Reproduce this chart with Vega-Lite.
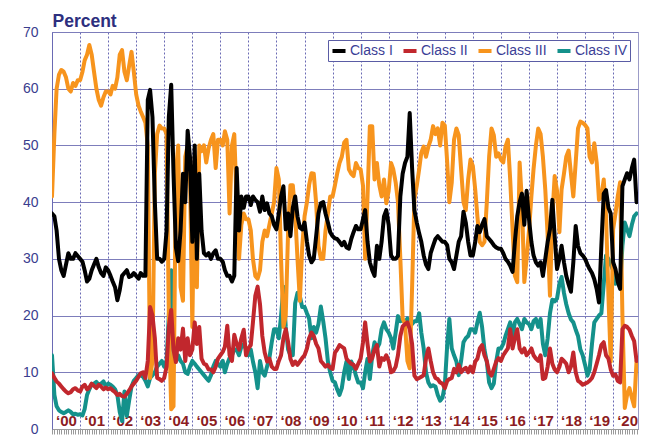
{
"$schema":"https://vega.github.io/schema/vega-lite/v6.json",
"width":586,"height":397,
"autosize":{"type":"none"},
"padding":{"left":52,"top":32,"right":13,"bottom":6},
"background":"white",
"config":{"view":{"stroke":"#9c9cc8","strokeWidth":1},"font":"Liberation Sans"},
"data":{"values":[
{"d":"2000-01","I":38,"II":9.8,"III":41,"IV":13},
{"d":"2000-02","I":37.5,"II":9,"III":52,"IV":6},
{"d":"2000-03","I":35,"II":8.4,"III":60,"IV":4},
{"d":"2000-04","I":30,"II":8,"III":62.5,"IV":3.3},
{"d":"2000-05","I":28,"II":7.5,"III":63.3,"IV":3},
{"d":"2000-06","I":27,"II":7,"III":63,"IV":2.8},
{"d":"2000-07","I":29,"II":6.6,"III":62,"IV":3},
{"d":"2000-08","I":31,"II":6.3,"III":60,"IV":3.3},
{"d":"2000-09","I":30,"II":6.5,"III":59.5,"IV":3},
{"d":"2000-10","I":30,"II":7,"III":61,"IV":2.6},
{"d":"2000-11","I":31,"II":7.2,"III":60.5,"IV":2.7},
{"d":"2000-12","I":30.5,"II":6.8,"III":61.5,"IV":2.5},
{"d":"2001-01","I":30,"II":6.6,"III":61.5,"IV":2.6},
{"d":"2001-02","I":29.5,"II":7.5,"III":63,"IV":2.4},
{"d":"2001-03","I":28,"II":7.8,"III":65,"IV":3.5},
{"d":"2001-04","I":26,"II":7,"III":66,"IV":6},
{"d":"2001-05","I":26.5,"II":7.3,"III":67.7,"IV":7},
{"d":"2001-06","I":28,"II":8,"III":66,"IV":7.9},
{"d":"2001-07","I":29,"II":7.6,"III":63,"IV":8},
{"d":"2001-08","I":30,"II":7.2,"III":60,"IV":8.3},
{"d":"2001-09","I":28.5,"II":7.8,"III":58,"IV":7.8},
{"d":"2001-10","I":27.5,"II":7.5,"III":57,"IV":8},
{"d":"2001-11","I":27,"II":7,"III":58.5,"IV":8.4},
{"d":"2001-12","I":28.5,"II":7.3,"III":59.5,"IV":7.5},
{"d":"2002-01","I":28,"II":7,"III":59.5,"IV":8},
{"d":"2002-02","I":27,"II":7.2,"III":59,"IV":7.8},
{"d":"2002-03","I":26,"II":6.8,"III":60.5,"IV":7.5},
{"d":"2002-04","I":25,"II":6.5,"III":60,"IV":7},
{"d":"2002-05","I":22.7,"II":6,"III":62,"IV":6},
{"d":"2002-06","I":24.5,"II":6.2,"III":66,"IV":3},
{"d":"2002-07","I":27,"II":5.8,"III":66.8,"IV":1.4},
{"d":"2002-08","I":27.5,"II":5.7,"III":63,"IV":6.6},
{"d":"2002-09","I":28,"II":6.2,"III":61.5,"IV":2.3},
{"d":"2002-10","I":26.8,"II":6.8,"III":64,"IV":5},
{"d":"2002-11","I":27,"II":7.5,"III":66.5,"IV":7.5},
{"d":"2002-12","I":27.5,"II":8,"III":63,"IV":8.5},
{"d":"2003-01","I":27,"II":8.5,"III":59,"IV":9},
{"d":"2003-02","I":26.5,"II":9.2,"III":57,"IV":9.5},
{"d":"2003-03","I":27.5,"II":9.8,"III":56,"IV":9.5},
{"d":"2003-04","I":27,"II":10,"III":55,"IV":9.2},
{"d":"2003-05","I":27,"II":9,"III":54,"IV":8.5},
{"d":"2003-06","I":58,"II":12,"III":50,"IV":7.5},
{"d":"2003-07","I":59.8,"II":21.5,"III":9,"IV":9},
{"d":"2003-08","I":55,"II":20,"III":12,"IV":9.5},
{"d":"2003-09","I":40,"II":16,"III":45,"IV":10},
{"d":"2003-10","I":30,"II":9,"III":52,"IV":11},
{"d":"2003-11","I":30,"II":8.8,"III":53.5,"IV":11.5},
{"d":"2003-12","I":29.5,"II":8.5,"III":53,"IV":12},
{"d":"2004-01","I":30,"II":9,"III":53,"IV":11},
{"d":"2004-02","I":35,"II":11,"III":52,"IV":12},
{"d":"2004-03","I":55,"II":18,"III":20,"IV":20},
{"d":"2004-04","I":60.7,"II":21,"III":3.5,"IV":28},
{"d":"2004-05","I":45,"II":14,"III":4,"IV":12.4},
{"d":"2004-06","I":32,"II":11.8,"III":45,"IV":12},
{"d":"2004-07","I":29.6,"II":16,"III":50,"IV":13},
{"d":"2004-08","I":35,"II":14,"III":25,"IV":12},
{"d":"2004-09","I":45,"II":17.7,"III":22.6,"IV":11.5},
{"d":"2004-10","I":40,"II":12,"III":48,"IV":10},
{"d":"2004-11","I":52.6,"II":16,"III":50,"IV":9.7},
{"d":"2004-12","I":48,"II":13,"III":45,"IV":11},
{"d":"2005-01","I":33,"II":14,"III":18,"IV":12},
{"d":"2005-02","I":50,"II":18.8,"III":48,"IV":11.5},
{"d":"2005-03","I":30,"II":15,"III":25,"IV":11},
{"d":"2005-04","I":45,"II":18,"III":50,"IV":10.5},
{"d":"2005-05","I":35,"II":12.4,"III":49,"IV":10},
{"d":"2005-06","I":31,"II":11.5,"III":50,"IV":9.5},
{"d":"2005-07","I":30.6,"II":11.3,"III":47,"IV":9},
{"d":"2005-08","I":31,"II":10.5,"III":49.5,"IV":8.5},
{"d":"2005-09","I":30,"II":10.5,"III":51,"IV":9.5},
{"d":"2005-10","I":31,"II":10,"III":52,"IV":11},
{"d":"2005-11","I":31.5,"II":11,"III":46,"IV":12},
{"d":"2005-12","I":30,"II":12.4,"III":51,"IV":11.5},
{"d":"2006-01","I":30,"II":13,"III":51,"IV":11},
{"d":"2006-02","I":29.5,"II":13.6,"III":50,"IV":12},
{"d":"2006-03","I":28,"II":14.5,"III":52.5,"IV":10},
{"d":"2006-04","I":27,"II":18.2,"III":51,"IV":11.5},
{"d":"2006-05","I":27,"II":13,"III":38,"IV":12.5},
{"d":"2006-06","I":26,"II":12,"III":50,"IV":13},
{"d":"2006-07","I":27,"II":16.6,"III":52,"IV":14},
{"d":"2006-08","I":46,"II":15,"III":40,"IV":14},
{"d":"2006-09","I":35,"II":14,"III":30,"IV":13},
{"d":"2006-10","I":41,"II":16,"III":36,"IV":14.5},
{"d":"2006-11","I":39,"II":17.5,"III":38,"IV":15},
{"d":"2006-12","I":41,"II":13,"III":37,"IV":14},
{"d":"2007-01","I":41,"II":14.2,"III":37,"IV":13},
{"d":"2007-02","I":39.5,"II":14.8,"III":35,"IV":14},
{"d":"2007-03","I":41,"II":18.8,"III":30,"IV":11.9},
{"d":"2007-04","I":40.4,"II":23.5,"III":27,"IV":10},
{"d":"2007-05","I":40,"II":25.1,"III":26.5,"IV":7.2},
{"d":"2007-06","I":38.3,"II":22,"III":28,"IV":12},
{"d":"2007-07","I":41,"II":16.4,"III":33,"IV":10},
{"d":"2007-08","I":38.6,"II":13.5,"III":35,"IV":9.4},
{"d":"2007-09","I":39.8,"II":11.9,"III":34,"IV":11},
{"d":"2007-10","I":38,"II":12.4,"III":36,"IV":12.5},
{"d":"2007-11","I":37.5,"II":11,"III":38,"IV":15.3},
{"d":"2007-12","I":36,"II":10.6,"III":40,"IV":17.6},
{"d":"2008-01","I":35.2,"II":10.6,"III":46,"IV":17.6},
{"d":"2008-02","I":38,"II":12,"III":44,"IV":16},
{"d":"2008-03","I":41,"II":13,"III":30,"IV":19.9},
{"d":"2008-04","I":42.8,"II":16,"III":18,"IV":25.1},
{"d":"2008-05","I":35.2,"II":17.6,"III":20,"IV":18},
{"d":"2008-06","I":38,"II":15.3,"III":35,"IV":14},
{"d":"2008-07","I":34,"II":12.4,"III":43,"IV":13},
{"d":"2008-08","I":39,"II":11.3,"III":43,"IV":13},
{"d":"2008-09","I":41,"II":11.9,"III":38,"IV":22.2},
{"d":"2008-10","I":37.5,"II":11.3,"III":30,"IV":24},
{"d":"2008-11","I":35.5,"II":11.9,"III":22.6,"IV":23.4},
{"d":"2008-12","I":35.2,"II":12.5,"III":32,"IV":21.5},
{"d":"2009-01","I":36.4,"II":13,"III":37.5,"IV":21.5},
{"d":"2009-02","I":33,"II":14.2,"III":40,"IV":20.4},
{"d":"2009-03","I":30.6,"II":16,"III":43,"IV":19.5},
{"d":"2009-04","I":29.4,"II":17,"III":45.1,"IV":16},
{"d":"2009-05","I":30,"II":16.4,"III":45,"IV":18},
{"d":"2009-06","I":34,"II":15,"III":39.8,"IV":17},
{"d":"2009-07","I":38,"II":14.2,"III":32.3,"IV":18.5},
{"d":"2009-08","I":39.8,"II":12,"III":30,"IV":21.6},
{"d":"2009-09","I":40,"II":11.5,"III":30,"IV":19},
{"d":"2009-10","I":38,"II":11,"III":35,"IV":16},
{"d":"2009-11","I":36.4,"II":11.3,"III":38,"IV":11.9},
{"d":"2009-12","I":34.7,"II":10.8,"III":41,"IV":10},
{"d":"2010-01","I":34,"II":10.6,"III":41,"IV":8.5},
{"d":"2010-02","I":33.6,"II":13.5,"III":43,"IV":8.2},
{"d":"2010-03","I":33.5,"II":14,"III":45,"IV":7},
{"d":"2010-04","I":33,"II":14.8,"III":46.9,"IV":6},
{"d":"2010-05","I":32.4,"II":14.5,"III":48,"IV":7.2},
{"d":"2010-06","I":33,"II":14.2,"III":50.5,"IV":10},
{"d":"2010-07","I":32,"II":12.4,"III":51,"IV":11.9},
{"d":"2010-08","I":31.8,"II":11.9,"III":45.8,"IV":8.8},
{"d":"2010-09","I":33.5,"II":11.5,"III":45,"IV":11.9},
{"d":"2010-10","I":34.7,"II":11.3,"III":44.6,"IV":11},
{"d":"2010-11","I":35.8,"II":10.6,"III":46.9,"IV":9.4},
{"d":"2010-12","I":35.2,"II":11.5,"III":46,"IV":8.2},
{"d":"2011-01","I":35.2,"II":12.4,"III":45.8,"IV":8.2},
{"d":"2011-02","I":37,"II":15.3,"III":42.9,"IV":7.2},
{"d":"2011-03","I":38.6,"II":18.8,"III":30,"IV":10},
{"d":"2011-04","I":33,"II":15,"III":41,"IV":12.4},
{"d":"2011-05","I":29.4,"II":11.9,"III":53.4,"IV":8.8},
{"d":"2011-06","I":28,"II":12.5,"III":53.4,"IV":13},
{"d":"2011-07","I":27,"II":14,"III":44,"IV":15.3},
{"d":"2011-08","I":32.3,"II":14.8,"III":46.9,"IV":14.2},
{"d":"2011-09","I":30,"II":11,"III":43,"IV":15},
{"d":"2011-10","I":33,"II":12.5,"III":41,"IV":17.6},
{"d":"2011-11","I":37.5,"II":12.2,"III":44,"IV":18.8},
{"d":"2011-12","I":38.6,"II":13,"III":39.8,"IV":17.6},
{"d":"2012-01","I":36,"II":12,"III":42,"IV":17},
{"d":"2012-02","I":30.6,"II":10,"III":46.9,"IV":16},
{"d":"2012-03","I":30,"II":10.2,"III":45.8,"IV":14.2},
{"d":"2012-04","I":30,"II":11,"III":43.5,"IV":17},
{"d":"2012-05","I":30.5,"II":13,"III":40,"IV":19.9},
{"d":"2012-06","I":41,"II":16.4,"III":30,"IV":19},
{"d":"2012-07","I":45,"II":18.1,"III":19.5,"IV":19.2},
{"d":"2012-08","I":46.9,"II":18.5,"III":18.5,"IV":18.8},
{"d":"2012-09","I":48,"II":18.8,"III":12,"IV":19.5},
{"d":"2012-10","I":55.7,"II":17.6,"III":10.7,"IV":19},
{"d":"2012-11","I":46,"II":15,"III":25,"IV":18.5},
{"d":"2012-12","I":38.6,"II":9.4,"III":40.5,"IV":19},
{"d":"2013-01","I":36.4,"II":8.8,"III":42.9,"IV":19},
{"d":"2013-02","I":34.5,"II":9,"III":45.8,"IV":20.4},
{"d":"2013-03","I":33,"II":9.2,"III":48.7,"IV":17},
{"d":"2013-04","I":30.6,"II":9.5,"III":49.8,"IV":14.2},
{"d":"2013-05","I":29,"II":12.4,"III":48,"IV":10},
{"d":"2013-06","I":28.2,"II":14.2,"III":49.8,"IV":8.2},
{"d":"2013-07","I":31,"II":12,"III":51,"IV":7.5},
{"d":"2013-08","I":32.3,"II":10,"III":53.4,"IV":7.7},
{"d":"2013-09","I":33.5,"II":9,"III":52,"IV":7.5},
{"d":"2013-10","I":34,"II":8.8,"III":53,"IV":6},
{"d":"2013-11","I":33.5,"II":8.2,"III":50,"IV":5},
{"d":"2013-12","I":33,"II":8,"III":54,"IV":5.5},
{"d":"2014-01","I":33,"II":7.2,"III":53.5,"IV":7.7},
{"d":"2014-02","I":32.4,"II":8.5,"III":47,"IV":14.8},
{"d":"2014-03","I":30,"II":8.8,"III":40,"IV":19.4},
{"d":"2014-04","I":29.4,"II":9,"III":43.4,"IV":14.2},
{"d":"2014-05","I":28.2,"II":10.6,"III":51,"IV":13},
{"d":"2014-06","I":30.6,"II":10,"III":53,"IV":11.9},
{"d":"2014-07","I":33,"II":11.3,"III":51.8,"IV":9.5},
{"d":"2014-08","I":34,"II":10,"III":45.8,"IV":12},
{"d":"2014-09","I":38.3,"II":10.5,"III":40,"IV":15.3},
{"d":"2014-10","I":36.4,"II":10.8,"III":38.6,"IV":16},
{"d":"2014-11","I":33,"II":10,"III":44,"IV":16.4},
{"d":"2014-12","I":30.6,"II":11,"III":47.5,"IV":17.6},
{"d":"2015-01","I":30.6,"II":10,"III":46.4,"IV":17.6},
{"d":"2015-02","I":33,"II":11.9,"III":42.2,"IV":17},
{"d":"2015-03","I":35.8,"II":12.4,"III":37.5,"IV":18.8},
{"d":"2015-04","I":34.7,"II":14.2,"III":33,"IV":20.5},
{"d":"2015-05","I":36,"II":14.8,"III":32.4,"IV":18},
{"d":"2015-06","I":37,"II":13,"III":33,"IV":14},
{"d":"2015-07","I":34,"II":12,"III":39.8,"IV":11.9},
{"d":"2015-08","I":33.5,"II":10,"III":48,"IV":8.2},
{"d":"2015-09","I":33,"II":9.4,"III":53,"IV":7.2},
{"d":"2015-10","I":32.4,"II":10.6,"III":51.8,"IV":8},
{"d":"2015-11","I":32,"II":11.9,"III":48,"IV":11.9},
{"d":"2015-12","I":31.8,"II":12.5,"III":48.6,"IV":14.2},
{"d":"2016-01","I":31.8,"II":12,"III":47.5,"IV":14.2},
{"d":"2016-02","I":31,"II":13,"III":47,"IV":15},
{"d":"2016-03","I":30,"II":13.6,"III":49.8,"IV":16.4},
{"d":"2016-04","I":29.5,"II":14.2,"III":51,"IV":17.6},
{"d":"2016-05","I":28.8,"II":17.6,"III":44,"IV":18.8},
{"d":"2016-06","I":27.7,"II":14.2,"III":35.2,"IV":16.4},
{"d":"2016-07","I":33,"II":16,"III":27,"IV":18.8},
{"d":"2016-08","I":37.5,"II":17.6,"III":25.9,"IV":19.4},
{"d":"2016-09","I":40,"II":14.2,"III":47,"IV":18.5},
{"d":"2016-10","I":41.5,"II":13.5,"III":40,"IV":17.6},
{"d":"2016-11","I":36,"II":14.2,"III":25.9,"IV":19.4},
{"d":"2016-12","I":42,"II":13,"III":30,"IV":18.8},
{"d":"2017-01","I":37,"II":13.5,"III":35,"IV":18.5},
{"d":"2017-02","I":33,"II":14.2,"III":41,"IV":17.6},
{"d":"2017-03","I":30.6,"II":13,"III":45.8,"IV":19},
{"d":"2017-04","I":29.4,"II":12.4,"III":50,"IV":19.4},
{"d":"2017-05","I":28.8,"II":12,"III":53,"IV":18},
{"d":"2017-06","I":29.4,"II":13,"III":52,"IV":19.4},
{"d":"2017-07","I":27,"II":8.8,"III":48,"IV":15},
{"d":"2017-08","I":30,"II":9,"III":42.2,"IV":13},
{"d":"2017-09","I":33,"II":11,"III":34,"IV":16},
{"d":"2017-10","I":35.2,"II":14.2,"III":23.5,"IV":20.4},
{"d":"2017-11","I":40.4,"II":11.5,"III":37.5,"IV":22.8},
{"d":"2017-12","I":34,"II":10.5,"III":44.6,"IV":22.5},
{"d":"2018-01","I":28.2,"II":10,"III":42,"IV":23},
{"d":"2018-02","I":30,"II":11,"III":34.7,"IV":25.6},
{"d":"2018-03","I":32.3,"II":12.4,"III":42.2,"IV":26.8},
{"d":"2018-04","I":29.4,"II":12,"III":45,"IV":24},
{"d":"2018-05","I":27,"II":11.5,"III":48,"IV":22},
{"d":"2018-06","I":25.5,"II":10,"III":49.1,"IV":20.4},
{"d":"2018-07","I":24.2,"II":11,"III":45,"IV":19.3},
{"d":"2018-08","I":29.4,"II":13.5,"III":41,"IV":18.8},
{"d":"2018-09","I":35.8,"II":10,"III":47,"IV":17.5},
{"d":"2018-10","I":32.3,"II":8.5,"III":53,"IV":16.4},
{"d":"2018-11","I":31,"II":8.2,"III":54.2,"IV":14},
{"d":"2018-12","I":30.6,"II":7.8,"III":54,"IV":13},
{"d":"2019-01","I":30,"II":8,"III":53.6,"IV":11.3},
{"d":"2019-02","I":29,"II":8.2,"III":53,"IV":9.4},
{"d":"2019-03","I":28.2,"II":8.5,"III":48,"IV":10.5},
{"d":"2019-04","I":27.5,"II":9,"III":47,"IV":15},
{"d":"2019-05","I":26.4,"II":10,"III":50.4,"IV":18.8},
{"d":"2019-06","I":24.7,"II":11.5,"III":47,"IV":19.4},
{"d":"2019-07","I":22.3,"II":13,"III":40.4,"IV":20},
{"d":"2019-08","I":32.3,"II":14.8,"III":41,"IV":20.4},
{"d":"2019-09","I":41.5,"II":15.3,"III":44,"IV":25.6},
{"d":"2019-10","I":42.1,"II":13,"III":37.5,"IV":30.6},
{"d":"2019-11","I":39,"II":12.4,"III":23.5,"IV":30},
{"d":"2019-12","I":38,"II":10.5,"III":11.9,"IV":29},
{"d":"2020-01","I":29.4,"II":9.4,"III":35.2,"IV":28},
{"d":"2020-02","I":28.2,"II":9.6,"III":38,"IV":25.6},
{"d":"2020-03","I":26,"II":8.5,"III":41,"IV":26},
{"d":"2020-04","I":24.7,"II":8.2,"III":43.5,"IV":25},
{"d":"2020-05","I":42.8,"II":17.6,"III":20,"IV":32.3},
{"d":"2020-06","I":44,"II":18.2,"III":3.7,"IV":36.4},
{"d":"2020-07","I":45.1,"II":18,"III":6,"IV":35.2},
{"d":"2020-08","I":44,"II":17.5,"III":7.2,"IV":34},
{"d":"2020-09","I":46,"II":16.4,"III":5.5,"IV":36},
{"d":"2020-10","I":47.5,"II":15.5,"III":4,"IV":37.5},
{"d":"2020-11","I":40,"II":12,"III":12,"IV":38}
]},
"transform":[{"fold":["IV","III","II","I"],"as":["k","v"]}],
"mark":{"type":"line","strokeWidth":4,"strokeJoin":"round","strokeCap":"round","clip":true},
"encoding":{
"x":{"field":"d","type":"temporal",
"scale":{"type":"utc","domain":[{"year":2000,"month":1,"date":1,"utc":true},{"year":2020,"month":11,"date":20,"utc":true}]},
"axis":{"title":null,"tickCount":{"interval":"month","step":1},
"labelExpr":"utcmonth(datum.value)===0 ? '‘' + utcFormat(datum.value,'%y') : ''",
"labelFont":"Liberation Sans","labelFontSize":15,"labelFontWeight":"bold","labelColor":"#8c1c22",
"labelAlign":"center","labelBaseline":"alphabetic","labelOffset":14,"labelPadding":-9,
"labelFlush":false,"labelOverlap":false,"labelBound":false,
"ticks":true,"tickSize":5,"tickColor":"#9a9a9a","tickWidth":1,
"domain":true,"domainColor":"#9a9a9a",
"grid":true,"gridColor":"#6a6ab4","gridDash":[2,2],"gridWidth":1,
"gridOpacity":{"condition":{"test":"utcmonth(datum.value)===0","value":1},"value":0}}},
"y":{"field":"v","type":"quantitative","scale":{"domain":[0,70],"nice":false},
"axis":{"values":[0,10,20,30,40,50,60,70],"title":"Percent","titleAngle":0,"titleAlign":"left","titleX":0,"titleY":-6,"titleBaseline":"alphabetic",
"titleFont":"Liberation Sans","titleFontSize":17.5,"titleFontWeight":"bold","titleColor":"#2d2f7e",
"labelFont":"Liberation Sans","labelFontSize":14,"labelColor":"#3a3d8e","labelPadding":14,"labelFlush":false,
"ticks":false,"tickSize":0,"domain":true,"domainColor":"#6a6ab4","domainWidth":1,
"grid":true,"gridColor":"#7d7dbb","gridWidth":1}},
"color":{"field":"k","type":"nominal",
"scale":{"domain":["I","II","III","IV"],"range":["#000000","#c1272d","#f7941d","#14918b"]},
"legend":{"title":null,"orient":"top-right","direction":"horizontal","offset":8,
"labelExpr":"'Class ' + datum.value","labelFont":"Liberation Sans","labelFontSize":14,"labelColor":"#3b3e96",
"symbolType":"stroke","symbolStrokeWidth":4,"symbolSize":170,"labelOffset":2,"columnPadding":2,
"padding":2,"strokeColor":"#5a5ca5","fillColor":"white","cornerRadius":0}}
}
}
